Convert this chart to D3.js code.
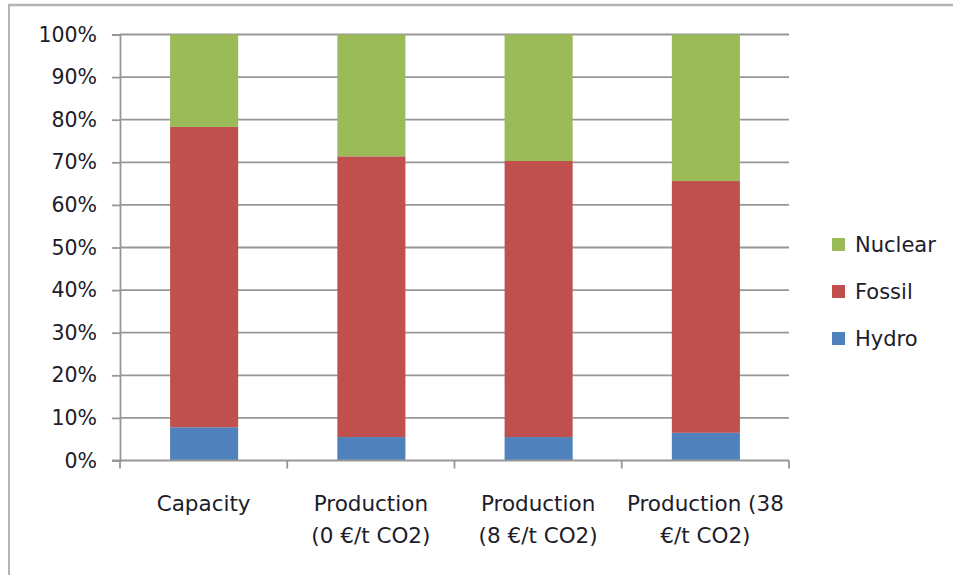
<!DOCTYPE html>
<html>
<head>
<meta charset="utf-8">
<script src="https://cdn.jsdelivr.net/npm/d3@7"></script>
<style>
  html, body { margin: 0; padding: 0; background: #fff; }
  svg { display: block; }
  text { font-family: "DejaVu Sans", sans-serif; fill: #1c1c2a; }
</style>
</head>
<body>
<svg id="chart" width="953" height="575"></svg>
<script>
// Share of generation mix per scenario (percent)
const categories = ["Capacity", "Production (0 €/t CO2)", "Production (8 €/t CO2)", "Production (38 €/t CO2)"];
const categoryLines = [["Capacity"], ["Production", "(0 €/t CO2)"], ["Production", "(8 €/t CO2)"], ["Production (38", "€/t CO2)"]];
const seriesNames = ["Hydro", "Fossil", "Nuclear"];
const hydro   = [7.8, 5.5, 5.5, 6.5];
const fossil  = [70.5, 65.9, 64.8, 59.1];
const nuclear = [21.7, 28.6, 29.7, 34.4];
const yTicks = [0, 10, 20, 30, 40, 50, 60, 70, 80, 90, 100];
const colors = { Hydro: "#4F81BD", Fossil: "#C0504D", Nuclear: "#9BBB59" };

const rows = categories.map((c, i) => ({ cat: c, Hydro: hydro[i], Fossil: fossil[i], Nuclear: nuclear[i] }));
const stacked = d3.stack().keys(seriesNames)(rows);

const svg = d3.select("#chart");

// Outer chart frame
svg.append("line").attr("x1", 9).attr("x2", 9).attr("y1", 5).attr("y2", 575)
  .attr("stroke", "#b4b4b4").attr("stroke-width", 2);
svg.append("line").attr("x1", 8).attr("x2", 953).attr("y1", 5).attr("y2", 5)
  .attr("stroke", "#b4b4b4").attr("stroke-width", 2.5);

const x = d3.scaleBand().domain(categories).range([120, 789])
  .paddingInner(0.593).paddingOuter(0.2965);
const y = d3.scaleLinear().domain([0, 100]).range([460.5, 34.5]);

// Gridlines
svg.append("g").selectAll("line").data(yTicks.filter(t => t > 0)).join("line")
  .attr("x1", 120).attr("x2", 789)
  .attr("y1", d => y(d)).attr("y2", d => y(d))
  .attr("stroke", "#979797").attr("stroke-width", 1.8);

// Stacked bars
svg.append("g").selectAll("g").data(stacked).join("g")
  .attr("fill", d => colors[d.key])
  .selectAll("rect").data(d => d).join("rect")
  .attr("x", d => x(d.data.cat) + 0.5)
  .attr("width", x.bandwidth())
  .attr("y", d => y(d[1]))
  .attr("height", d => y(d[0]) - y(d[1]));

// Y axis
const yAxis = d3.axisLeft(y).tickValues(yTicks).tickFormat(d => d + "%").tickSize(8).tickPadding(15);
const gy = svg.append("g").attr("transform", "translate(120,0)").call(yAxis);
gy.select(".domain").attr("stroke", "#979797").attr("stroke-width", 1.8);
gy.selectAll(".tick line").attr("stroke", "#979797").attr("stroke-width", 1.8);
gy.selectAll(".tick text").attr("font-size", 20.5).attr("font-family", "DejaVu Sans").attr("fill", "#1c1c2a");

// X axis baseline and boundary ticks
const boundaries = categories.map(c => x(c) - x.step() * x.paddingInner() / 2).concat([789]);
svg.append("line").attr("x1", 112).attr("x2", 789).attr("y1", y(0)).attr("y2", y(0))
  .attr("stroke", "#979797").attr("stroke-width", 1.8);
svg.append("g").selectAll("line").data(boundaries).join("line")
  .attr("x1", d => d).attr("x2", d => d)
  .attr("y1", y(0)).attr("y2", y(0) + 8)
  .attr("stroke", "#979797").attr("stroke-width", 1.8);

// Category labels
svg.append("g").selectAll("text").data(categories).join("text")
  .attr("text-anchor", "middle")
  .attr("font-size", 21.5)
  .attr("x", d => x(d) + x.bandwidth() / 2)
  .attr("y", 511)
  .each(function(d, i) {
    d3.select(this).selectAll("tspan").data(categoryLines[i]).join("tspan")
      .attr("x", x(d) + x.bandwidth() / 2)
      .attr("dy", (t, j) => j === 0 ? 0 : 32)
      .text(t => t);
  });

// Legend
const legendOrder = ["Nuclear", "Fossil", "Hydro"];
const lg = svg.append("g").selectAll("g").data(legendOrder).join("g")
  .attr("transform", (d, i) => `translate(832,${238 + i * 47})`);
lg.append("rect").attr("width", 13).attr("height", 13).attr("fill", d => colors[d]);
lg.append("text").attr("x", 23).attr("y", 14).attr("font-size", 21).text(d => d);
</script>
</body>
</html>
